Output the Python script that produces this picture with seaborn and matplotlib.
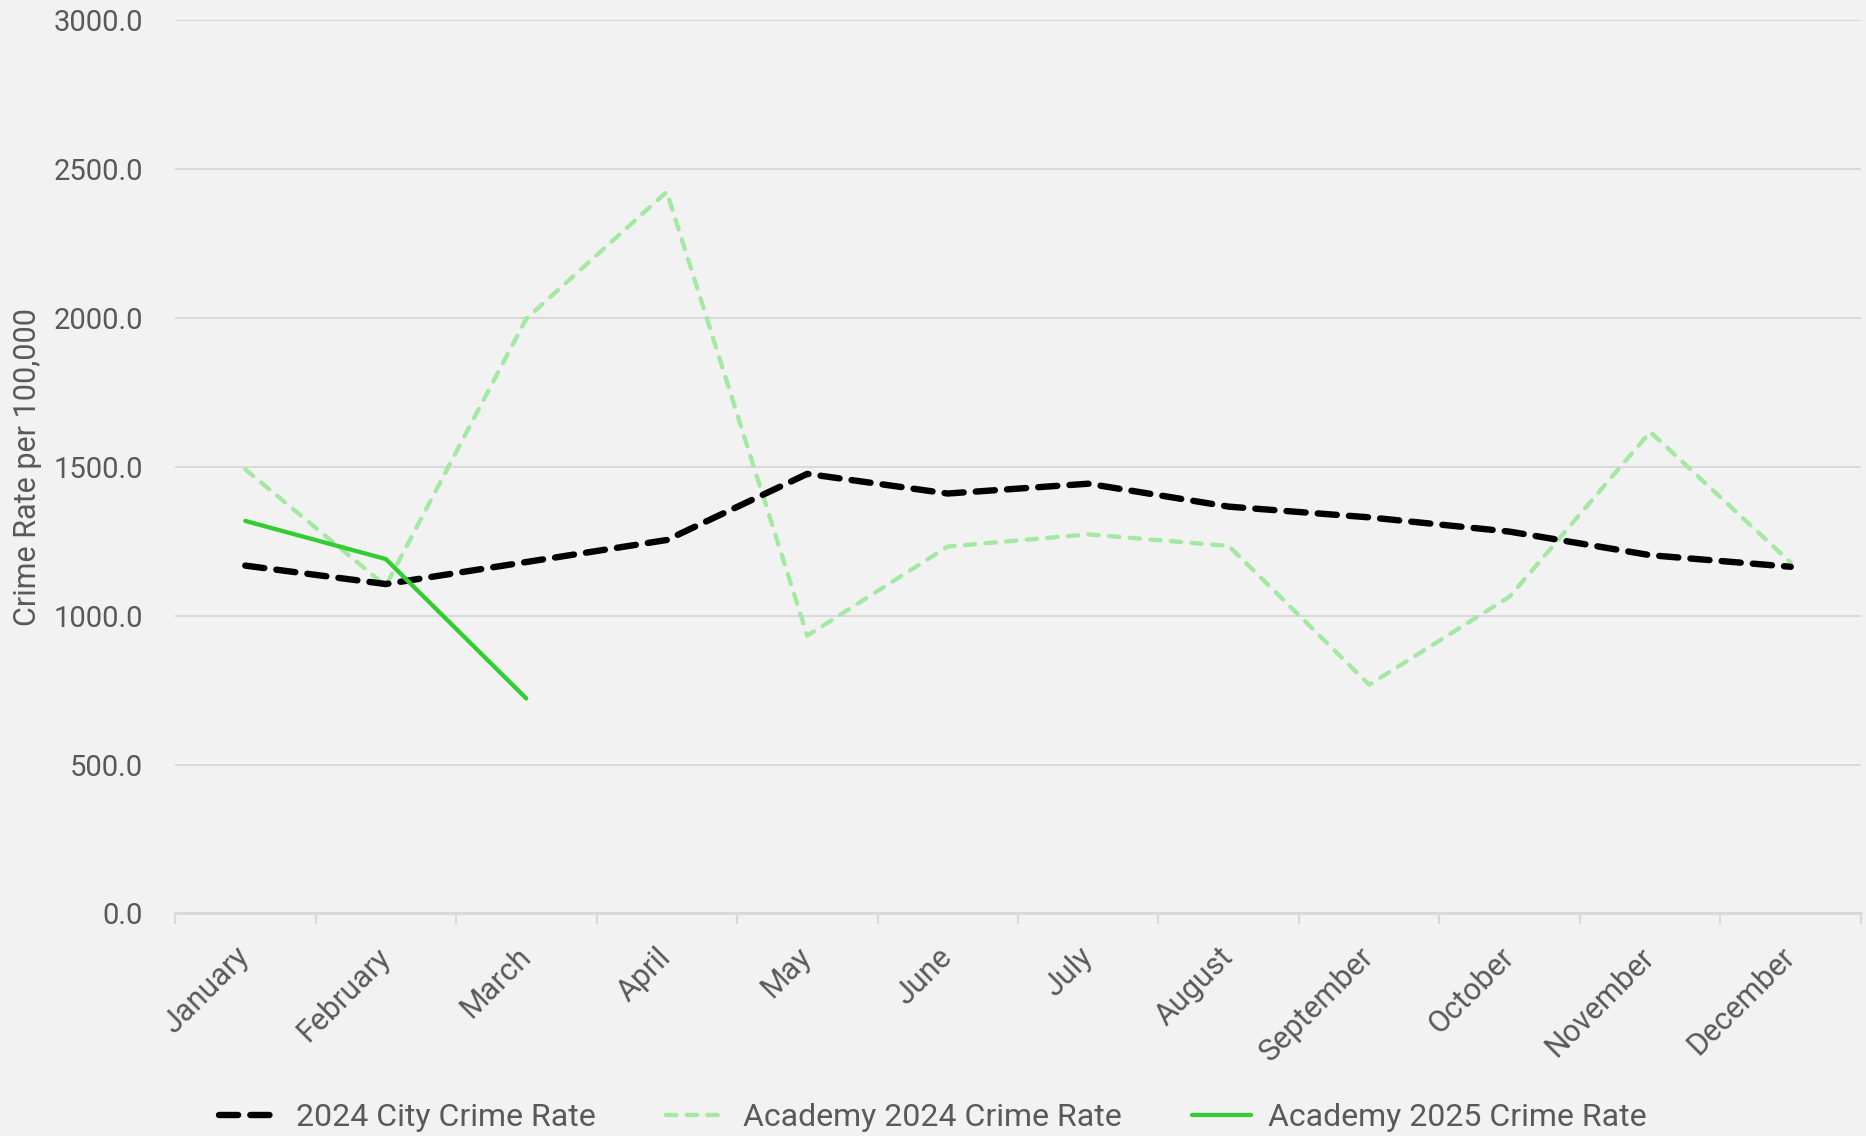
import matplotlib
matplotlib.use("Agg")
import matplotlib.pyplot as plt
import seaborn as sns
import pandas as pd
import numpy as np
from matplotlib.lines import Line2D

months = ["January", "February", "March", "April", "May", "June", "July",
          "August", "September", "October", "November", "December"]
city_2024 = [1168, 1106, 1180, 1254, 1476, 1410, 1443, 1366, 1330, 1282, 1203, 1164]
academy_2024 = [1491, 1100, 1997, 2423, 933, 1232, 1273, 1234, 768, 1064, 1617, 1178]
academy_2025 = [1318, 1190, 722]
yticks = [0, 500, 1000, 1500, 2000, 2500, 3000]

BG = "#f2f2f2"
GRID = "#d9d9d9"
TXT = "#595959"
FONT = ["Roboto", "DejaVu Sans"]
C_CITY, C_A24, C_A25 = "black", "#a3e8a3", "#33cc33"
LW_CITY, LW_A24, LW_A25 = 4.6, 3.1, 3.1
D_CITY, D_A24 = [3.0, 1.9], [2.4, 2.4]

sns.set_theme(style="white")
plt.rcParams["font.family"] = FONT

fig = plt.figure(figsize=(18.66, 11.36), dpi=100, facecolor=BG)
ax = fig.add_axes([0.0938, 0.1959, 0.9035, 0.7865])
ax.set_facecolor(BG)

df_city = pd.DataFrame({"month": months, "rate": city_2024})
df_a24 = pd.DataFrame({"month": months, "rate": academy_2024})
df_a25 = pd.DataFrame({"month": months[:len(academy_2025)], "rate": academy_2025})

sns.lineplot(data=df_a24, x="month", y="rate", ax=ax, sort=False, color=C_A24,
             linewidth=LW_A24, zorder=2)
ax.lines[-1].set_dashes(D_A24)
ax.lines[-1].set_dash_capstyle("round")
sns.lineplot(data=df_city, x="month", y="rate", ax=ax, sort=False, color=C_CITY,
             linewidth=LW_CITY, zorder=3)
ax.lines[-1].set_dashes(D_CITY)
ax.lines[-1].set_dash_capstyle("round")
sns.lineplot(data=df_a25, x="month", y="rate", ax=ax, sort=False, color=C_A25,
             linewidth=LW_A25, zorder=4)
ax.lines[-1].set_solid_capstyle("round")

ax.set_xlim(-0.5, len(months) - 0.5)
ax.set_ylim(0, 3000)
ax.set_yticks(yticks)
ax.set_yticklabels([f"{v:.1f}" for v in yticks])
ax.grid(axis="y", color=GRID, linewidth=1.4)
ax.grid(axis="x", visible=False)
for s in ["left", "right", "top"]:
    ax.spines[s].set_visible(False)
ax.spines["bottom"].set_color(GRID)
ax.spines["bottom"].set_linewidth(2)

ax.tick_params(axis="y", length=0, pad=23, labelsize=21, labelcolor=TXT)
ax.set_xticks(range(len(months)))
ax.set_xticks(np.arange(-0.5, len(months), 1.0), minor=True)
ax.set_xticklabels(months)
ax.tick_params(axis="x", which="major", length=0, pad=28, labelsize=22, labelcolor=TXT)
ax.tick_params(axis="x", which="minor", length=8, width=1.5, color=GRID, bottom=True)
for lab in ax.get_xticklabels():
    lab.set_rotation(45)
    lab.set_ha("right")
    lab.set_va("center")
    lab.set_rotation_mode("anchor")

ax.set_xlabel("")
ax.set_ylabel("Crime Rate per 100,000", fontsize=22, color=TXT)
ax.yaxis.set_label_coords(-0.079, 0.5)

handles = [
    Line2D([], [], color=C_CITY, linewidth=LW_CITY, dashes=D_CITY, dash_capstyle="round"),
    Line2D([], [], color=C_A24, linewidth=LW_A24, dashes=D_A24, dash_capstyle="round"),
    Line2D([], [], color=C_A25, linewidth=LW_A25),
]
labels = ["2024 City Crime Rate", "Academy 2024 Crime Rate", "Academy 2025 Crime Rate"]
leg = fig.legend(handles, labels, loc="center", bbox_to_anchor=(0.5, 0.016), ncol=3,
                 frameon=False, fontsize=23, handlelength=1.85, handletextpad=0.55,
                 columnspacing=2.2)
for t in leg.get_texts():
    t.set_color(TXT)

fig.savefig("out.png", dpi=100, facecolor=BG)
